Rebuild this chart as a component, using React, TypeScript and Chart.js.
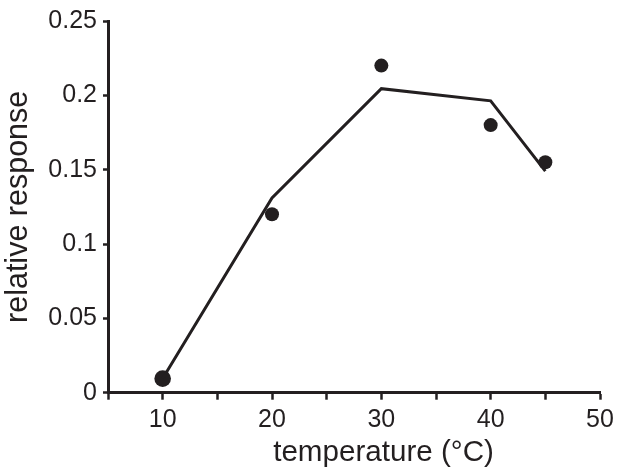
import React, { useEffect, useRef } from "react";
import { Chart, registerables } from "chart.js";

Chart.register(...registerables);

const temperatures = [10, 20, 30, 40, 45];
const measuredResponse = [0.0095, 0.12, 0.22, 0.18, 0.155];
const fittedResponse = [0.0095, 0.131, 0.2045, 0.1963, 0.149];
const xTickLabels = ["10", "20", "30", "40", "50"];

const INK = "#231f20";
const FONT = "'Liberation Sans', Arial, Helvetica, sans-serif";

const xTitlePlugin = {
  id: "xTitle",
  afterDraw(chart: any) {
    const { ctx, chartArea } = chart;
    ctx.save();
    ctx.fillStyle = INK;
    ctx.font = `29.6px ${FONT}`;
    ctx.textAlign = "center";
    ctx.textBaseline = "alphabetic";
    const cx = chartArea.left + (chartArea.right - chartArea.left) * 0.56;
    ctx.fillText("temperature (°C)", cx, 461);
    ctx.restore();
  },
};

export default function App() {
  const ref = useRef<HTMLCanvasElement | null>(null);

  useEffect(() => {
    if (!ref.current) return;
    const chart = new Chart(ref.current, {
      type: "scatter",
      data: {
        datasets: [
          {
            label: "fit",
            data: temperatures.map((t, i) => ({ x: t, y: fittedResponse[i] })),
            showLine: true,
            borderColor: INK,
            borderWidth: 3,
            pointRadius: 0,
            fill: false,
            tension: 0,
          },
          {
            label: "measured",
            data: temperatures.map((t, i) => ({ x: t, y: measuredResponse[i] })),
            showLine: false,
            backgroundColor: INK,
            borderColor: INK,
            borderWidth: 0,
            pointRadius: (c: any) => (c.dataIndex === 0 ? 8.3 : 7),
          },
        ],
      },
      options: {
        responsive: false,
        animation: false,
        events: [],
        layout: { padding: { left: 0, top: 18.7, right: 21, bottom: 0 } },
        plugins: {
          legend: { display: false },
          tooltip: { enabled: false },
        },
        scales: {
          x: {
            type: "linear",
            min: 5,
            max: 50,
            afterFit: (s: any) => {
              s.height = 83.3;
            },
            border: { display: true, color: INK, width: 3 },
            grid: {
              display: true,
              drawOnChartArea: false,
              drawTicks: true,
              tickLength: 7,
              tickWidth: 2.5,
              tickColor: INK,
              color: INK,
            },
            ticks: {
              stepSize: 5,
              padding: 5,
              color: INK,
              font: { family: FONT, size: 25 },
              maxRotation: 0,
              autoSkip: false,
              callback: (v: any) => {
                const s = String(v);
                return xTickLabels.includes(s) ? s : "";
              },
            },
            title: { display: false },
          },
          y: {
            type: "linear",
            min: 0,
            max: 0.25,
            afterFit: (s: any) => {
              s.width = 108;
            },
            border: { display: true, color: INK, width: 3 },
            grid: {
              display: true,
              drawOnChartArea: false,
              drawTicks: true,
              tickLength: 5,
              tickWidth: 2.5,
              tickColor: INK,
              color: INK,
            },
            ticks: {
              stepSize: 0.05,
              padding: 6,
              color: INK,
              font: { family: FONT, size: 25 },
              callback: (v: any) => String(Math.round(Number(v) * 100) / 100),
            },
            title: {
              display: true,
              text: "relative response",
              color: INK,
              font: { family: FONT, size: 30.5 },
              padding: { top: 0, bottom: 0 },
            },
          },
        },
      },
      plugins: [xTitlePlugin],
    });
    return () => chart.destroy();
  }, []);

  return (
    <div style={{ position: "fixed", left: 0, top: 0, width: 621, height: 476, background: "#fff" }}>
      <canvas ref={ref} width={621} height={476} />
    </div>
  );
}
